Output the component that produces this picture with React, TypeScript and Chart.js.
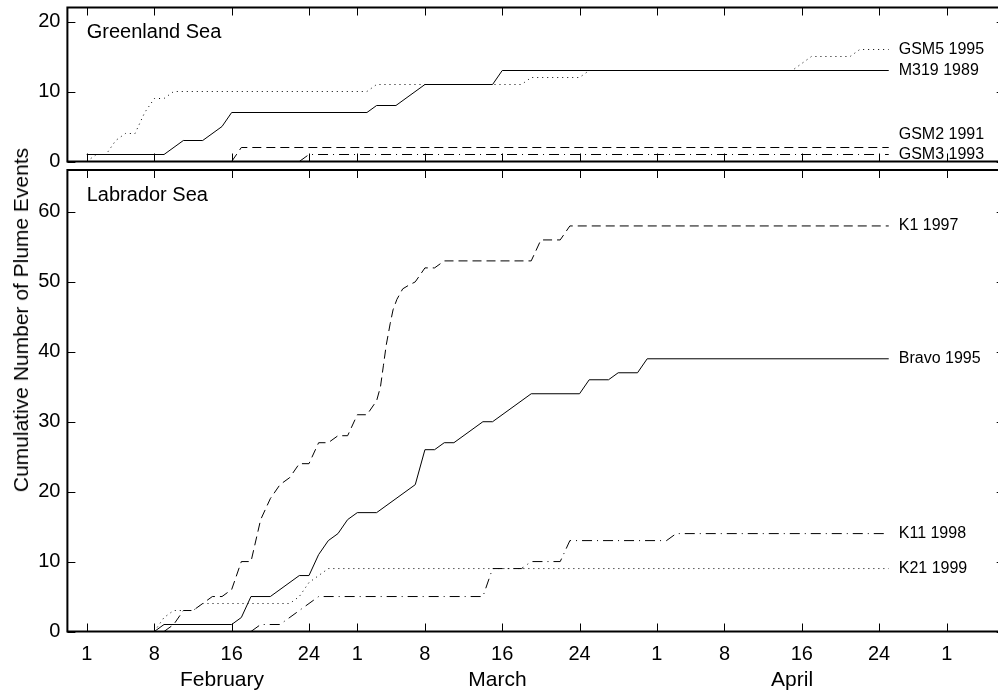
import React, { useEffect, useRef } from 'react';
import { Chart, registerables } from 'chart.js';

Chart.register(...registerables);

// ---- axis data (day 0 = 1 February) ----
const xMin = -2;
const xMax = 95;
const xTickDays = [0, 7, 15, 23, 28, 35, 43, 51, 59, 66, 74, 82, 89];
const xTickLabels = ['1', '8', '16', '24', '1', '8', '16', '24', '1', '8', '16', '24', '1'];
const monthMidDays = [14, 42.5, 73];
const monthNames = ['February', 'March', 'April'];
const yTicksTop = [0, 10, 20];
const yMaxTop = 22;
const yTicksBottom = [0, 10, 20, 30, 40, 50, 60];
const yMaxBottom = 66;

// ---- Greenland Sea ----
const gsm5Days = [0, 1, 2, 3, 4, 5, 6, 7, 8, 9, 29, 30, 45, 46, 51, 52, 73, 75, 79, 80, 83];
const gsm5Counts = [0, 1, 1, 3, 4, 4, 7, 9, 9, 10, 10, 11, 11, 12, 12, 13, 13, 15, 15, 16, 16];
const m319Days = [0, 8, 10, 12, 14, 15, 29, 30, 32, 35, 42, 43, 83];
const m319Counts = [1, 1, 3, 3, 5, 7, 7, 8, 8, 11, 11, 13, 13];
const gsm2Days = [15, 16, 83];
const gsm2Counts = [0, 2, 2];
const gsm3Days = [22, 23, 83];
const gsm3Counts = [0, 1, 1];

// ---- Labrador Sea ----
const k1Days = [8, 9, 10, 11, 12, 13, 14, 15, 16, 17, 18, 19, 20, 21, 22, 23, 24, 25, 26, 27, 28, 29, 30, 30.4, 30.7, 31, 31.4, 31.7, 32.1, 32.7, 33.3, 34, 35, 36, 37, 46, 47, 49, 50, 83];
const k1Counts = [0, 1, 3, 3, 4, 5, 5, 6, 10, 10, 16, 19, 21, 22, 24, 24, 27, 27, 28, 28, 31, 31, 33, 35, 38, 41, 44, 46, 47.5, 49, 49.5, 50, 52, 52, 53, 53, 56, 56, 58, 58];
const bravoDays = [7, 8, 15, 16, 17, 19, 22, 23, 24, 25, 26, 27, 28, 30, 34, 35, 36, 37, 38, 41, 42, 46, 51, 52, 54, 55, 57, 58, 83];
const bravoCounts = [0, 1, 1, 2, 5, 5, 8, 8, 11, 13, 14, 16, 17, 17, 21, 26, 26, 27, 27, 30, 30, 34, 34, 36, 36, 37, 37, 39, 39];
const k11Days = [17, 18, 20, 24, 41, 42, 45, 46, 49, 50, 60, 61, 83];
const k11Counts = [0, 1, 1, 5, 5, 9, 9, 10, 10, 13, 13, 14, 14];
const k21Days = [7, 8, 9, 11, 12, 21, 22, 23, 24, 25, 83];
const k21Counts = [0, 2, 3, 3, 4, 4, 5, 7, 8, 9, 9];

// ---- styles ----
const FONT = "'Liberation Sans', Arial, Helvetica, sans-serif";
const DASH: Record<string, number[]> = {
  solid: [],
  dashed: [9, 5],
  dotted: [1, 4],
  dashdot: [10, 5, 1, 5],
};
const TICK = 8;
const Y_AXIS_W = 67.4;
const CANVAS_W = 1010;
const PAD_RIGHT = 5.3;
const TICK_FONT = 20;
const MONTH_FONT = 21;
const TITLE_FONT = 20;
const LABEL_FONT = 16;
const TOP_OFFSET = 40;

const pts = (d: number[], v: number[]) => d.map((x, i) => ({ x, y: v[i] }));

const mkDs = (label: string, d: number[], v: number[], dash: number[]) => ({
  label,
  data: pts(d, v),
  borderColor: '#000',
  borderWidth: 1,
  borderDash: dash,
  pointRadius: 0,
  fill: false,
  tension: 0,
});

const framePlugin = {
  id: 'panelFrame',
  afterDraw(chart: any, _args: any, opts: any) {
    const { ctx, chartArea: a, scales } = chart;
    const x = scales.x;
    const y = scales.y;
    ctx.save();
    ctx.strokeStyle = '#000';
    ctx.lineWidth = 1;
    ctx.beginPath();
    xTickDays.forEach((d) => {
      const px = Math.round(x.getPixelForValue(d)) + 0.5;
      ctx.moveTo(px, a.top);
      ctx.lineTo(px, a.top + TICK);
      ctx.moveTo(px, a.bottom);
      ctx.lineTo(px, a.bottom - TICK);
    });
    y.ticks.forEach((t: any) => {
      const py = Math.round(y.getPixelForValue(t.value)) + 0.5;
      ctx.moveTo(a.left, py);
      ctx.lineTo(a.left + TICK, py);
      ctx.moveTo(a.right, py);
      ctx.lineTo(a.right - TICK, py);
    });
    ctx.stroke();
    ctx.lineWidth = 2;
    ctx.strokeRect(a.left, a.top, a.right - a.left, a.bottom - a.top);

    ctx.fillStyle = '#000';
    ctx.textAlign = 'left';
    ctx.textBaseline = 'alphabetic';
    ctx.font = `${TITLE_FONT}px ${FONT}`;
    ctx.fillText(opts.title, x.getPixelForValue(0), a.top + 30.5);

    ctx.font = `${LABEL_FONT}px ${FONT}`;
    ctx.textBaseline = 'middle';
    chart.data.datasets.forEach((ds: any, i: number) => {
      const meta = chart.getDatasetMeta(i);
      const pt = meta.data[meta.data.length - 1];
      const dy = (opts.labelDy && opts.labelDy[i]) || 0;
      ctx.fillText(ds.label, pt.x + 10, pt.y + dy);
    });
    ctx.restore();
  },
};

const yScale = (max: number, ticks: number[]) => ({
  type: 'linear',
  min: 0,
  max,
  afterBuildTicks: (s: any) => {
    s.ticks = ticks.map((v) => ({ value: v }));
  },
  afterFit: (s: any) => {
    s.width = Y_AXIS_W;
  },
  grid: { display: false, drawTicks: false },
  border: { display: false },
  ticks: {
    padding: 7,
    color: '#000',
    font: { family: FONT, size: TICK_FONT },
    callback: (v: any) => String(v),
  },
});

const xDayScale = (display: boolean) => ({
  type: 'linear',
  position: 'bottom',
  min: xMin,
  max: xMax,
  display,
  weight: 0,
  afterBuildTicks: (s: any) => {
    s.ticks = xTickDays.map((v) => ({ value: v }));
  },
  afterFit: (s: any) => {
    if (display) s.height = 30;
  },
  grid: { display: false, drawTicks: false },
  border: { display: false },
  ticks: {
    padding: 10.5,
    autoSkip: false,
    maxRotation: 0,
    color: '#000',
    font: { family: FONT, size: TICK_FONT },
    callback: (_v: any, i: number) => xTickLabels[i],
  },
});

const xMonthScale = {
  type: 'linear',
  position: 'bottom',
  min: xMin,
  max: xMax,
  weight: 1,
  afterBuildTicks: (s: any) => {
    s.ticks = monthMidDays.map((v) => ({ value: v }));
  },
  afterFit: (s: any) => {
    s.height = 29.5;
  },
  grid: { display: false, drawTicks: false },
  border: { display: false },
  ticks: {
    padding: 5.9,
    autoSkip: false,
    maxRotation: 0,
    color: '#000',
    font: { family: FONT, size: MONTH_FONT },
    callback: (_v: any, i: number) => monthNames[i],
  },
};

export default function App() {
  const topRef = useRef<HTMLCanvasElement>(null);
  const botRef = useRef<HTMLCanvasElement>(null);

  useEffect(() => {
    const top = new Chart(topRef.current as HTMLCanvasElement, {
      type: 'line',
      data: {
        datasets: [
          mkDs('GSM5 1995', gsm5Days, gsm5Counts, DASH.dotted),
          mkDs('M319 1989', m319Days, m319Counts, DASH.solid),
          mkDs('GSM2 1991', gsm2Days, gsm2Counts, DASH.dashed),
          mkDs('GSM3 1993', gsm3Days, gsm3Counts, DASH.dashdot),
        ],
      },
      options: {
        responsive: false,
        animation: false,
        events: [],
        layout: { padding: { top: 7.5 + TOP_OFFSET, bottom: 38.5, left: 0, right: PAD_RIGHT } },
        scales: {
          x: xDayScale(false),
          y: yScale(yMaxTop, yTicksTop),
        } as any,
        plugins: {
          legend: { display: false },
          tooltip: { enabled: false },
          panelFrame: { title: 'Greenland Sea', labelDy: [0, 0, -13, 0] },
        } as any,
      },
      plugins: [framePlugin],
    } as any);

    const bottom = new Chart(botRef.current as HTMLCanvasElement, {
      type: 'line',
      data: {
        datasets: [
          mkDs('K1 1997', k1Days, k1Counts, DASH.dashed),
          mkDs('Bravo 1995', bravoDays, bravoCounts, DASH.solid),
          mkDs('K11 1998', k11Days, k11Counts, DASH.dashdot),
          mkDs('K21 1999', k21Days, k21Counts, DASH.dotted),
        ],
      },
      options: {
        responsive: false,
        animation: false,
        events: [],
        layout: { padding: { top: 170, bottom: 0, left: 0, right: PAD_RIGHT } },
        scales: {
          x: xDayScale(true),
          xm: xMonthScale,
          y: yScale(yMaxBottom, yTicksBottom),
        } as any,
        plugins: {
          legend: { display: false },
          tooltip: { enabled: false },
          panelFrame: { title: 'Labrador Sea', labelDy: [0, 0, 0, 0] },
        } as any,
      },
      plugins: [framePlugin],
    } as any);

    return () => {
      top.destroy();
      bottom.destroy();
    };
  }, []);

  return (
    <div
      style={{
        position: 'fixed',
        left: 0,
        top: 0,
        width: 998,
        height: 691,
        overflow: 'hidden',
        background: '#fff',
      }}
    >
      <canvas ref={botRef} width={CANVAS_W} height={691} style={{ position: 'absolute', left: 0, top: 0 }} />
      <canvas
        ref={topRef}
        width={CANVAS_W}
        height={200 + TOP_OFFSET}
        style={{ position: 'absolute', left: 0, top: -TOP_OFFSET }}
      />
      <div
        style={{
          position: 'absolute',
          left: 21,
          top: 320,
          transform: 'translate(-50%, -50%) rotate(-90deg)',
          whiteSpace: 'nowrap',
          fontFamily: FONT,
          fontSize: 21,
          color: '#000',
        }}
      >
        Cumulative Number of Plume Events
      </div>
    </div>
  );
}
